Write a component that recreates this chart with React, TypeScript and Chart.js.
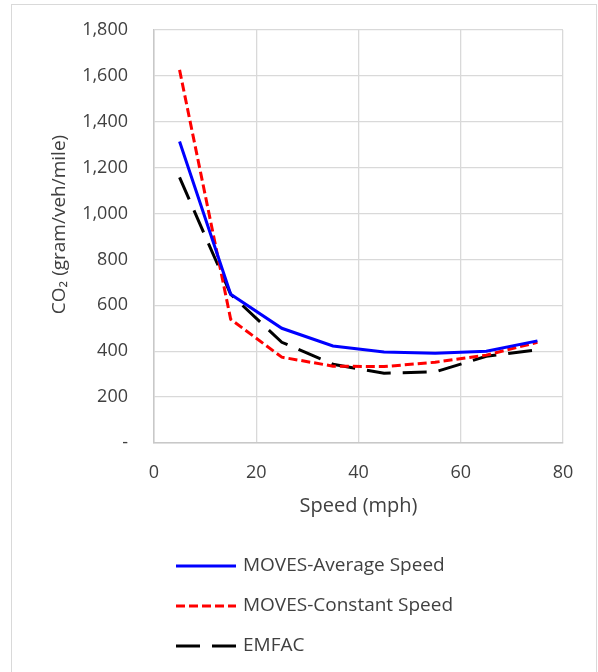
import React, { useEffect, useRef } from "react";
import { Chart, registerables } from "chart.js";

Chart.register(...registerables);

const speeds = [5, 15, 25, 35, 45, 55, 65, 75];
const avgSpeed = [1314, 648, 500, 423, 397, 391, 400, 445];
const constSpeed = [1626, 539, 374, 335, 333, 352, 383, 439];
const emfac = [1158, 648, 439, 343, 304, 310, 378, 406];
const seriesNames = ["MOVES-Average Speed", "MOVES-Constant Speed", "EMFAC"];
const xTitle = "Speed (mph)";
const yTitle = "CO\u2082 (gram/veh/mile)";

const FONT = "'Open Sans', sans-serif";
const TEXT = "#404040";

const frame = {
  id: "frame",
  beforeDraw(chart: any) {
    const ctx = chart.ctx;
    ctx.save();
    ctx.fillStyle = "#fff";
    ctx.fillRect(0, 0, chart.width, chart.height);
    ctx.strokeStyle = "#d9d9d9";
    ctx.lineWidth = 1;
    ctx.strokeRect(11.5, 4.5, 585, 672);
    ctx.restore();
  },
};

const yTitlePlugin = {
  id: "yTitlePlugin",
  afterDraw(chart: any) {
    const ctx = chart.ctx;
    const a = chart.chartArea;
    ctx.save();
    ctx.translate(60, (a.top + a.bottom) / 2 - 12);
    ctx.rotate(-Math.PI / 2);
    ctx.fillStyle = TEXT;
    ctx.font = `19px ${FONT}`;
    ctx.textAlign = "center";
    ctx.textBaseline = "middle";
    ctx.fillText(yTitle, 0, 0);
    ctx.restore();
  },
};

const vLegend = {
  id: "vLegend",
  afterDraw(chart: any) {
    const ctx = chart.ctx;
    const a = chart.chartArea;
    ctx.save();
    chart.data.datasets.forEach((ds: any, i: number) => {
      const y = a.bottom + 123 + i * 40;
      const x0 = a.left + 22;
      ctx.beginPath();
      ctx.strokeStyle = ds.borderColor;
      ctx.lineWidth = ds.borderWidth;
      ctx.setLineDash(ds.borderDash || []);
      ctx.moveTo(x0, y);
      ctx.lineTo(x0 + 60, y);
      ctx.stroke();
      ctx.setLineDash([]);
      ctx.fillStyle = TEXT;
      ctx.font = `19px ${FONT}`;
      ctx.textBaseline = "middle";
      ctx.textAlign = "left";
      ctx.fillText(ds.label, x0 + 67, y);
    });
    ctx.restore();
  },
};

export default function App() {
  const ref = useRef<HTMLCanvasElement>(null);
  useEffect(() => {
    const mk = (vals: number[]) => speeds.map((x, i) => ({ x, y: vals[i] }));
    const chart = new Chart(ref.current!, {
      type: "line",
      data: {
        datasets: [
          { label: seriesNames[0], data: mk(avgSpeed), borderColor: "#0000ff", borderWidth: 3, pointRadius: 0, tension: 0 },
          { label: seriesNames[1], data: mk(constSpeed), borderColor: "#ff0000", borderWidth: 3, borderDash: [9, 4], pointRadius: 0, tension: 0 },
          { label: seriesNames[2], data: mk(emfac), borderColor: "#000000", borderWidth: 3, borderDash: [24, 12], pointRadius: 0, tension: 0 },
        ],
      },
      options: {
        responsive: false,
        animation: false,
        layout: { padding: { left: 12, top: 30, right: 35, bottom: 149 } },
        plugins: { legend: { display: false }, tooltip: { enabled: false } },
        scales: {
          x: {
            type: "linear",
            min: 0,
            max: 80,
            ticks: { stepSize: 20, padding: 19, color: TEXT, font: { family: FONT, size: 18 } },
            grid: { color: "#d9d9d9", lineWidth: 1.3, drawTicks: false },
            border: { color: "#c8c8c8", width: 1.5 },
            title: { display: true, text: xTitle, color: TEXT, font: { family: FONT, size: 20 }, padding: { top: 0, bottom: 5 } },
            afterFit: (s: any) => { s.height = 80; s.paddingLeft = 0; s.paddingRight = 0; },
          },
          y: {
            min: 0,
            max: 1800,
            ticks: {
              stepSize: 200,
              padding: 26,
              color: TEXT,
              font: { family: FONT, size: 18 },
              callback: (v: any) => (v === 0 ? "-" : Number(v).toLocaleString("en-US")),
            },
            grid: { color: "#d9d9d9", lineWidth: 1.3, drawTicks: false },
            border: { color: "#c8c8c8", width: 1.5 },
            title: { display: false },
            afterFit: (s: any) => { s.width = 142; s.paddingTop = 0; s.paddingBottom = 0; },
          },
        },
      },
      plugins: [frame, yTitlePlugin, vLegend],
    });
    return () => chart.destroy();
  }, []);
  return (
    <div style={{ position: "fixed", left: 0, top: 0, width: 598, height: 672 }}>
      <canvas ref={ref} width={598} height={672} style={{ width: 598, height: 672, display: "block" }} />
    </div>
  );
}
